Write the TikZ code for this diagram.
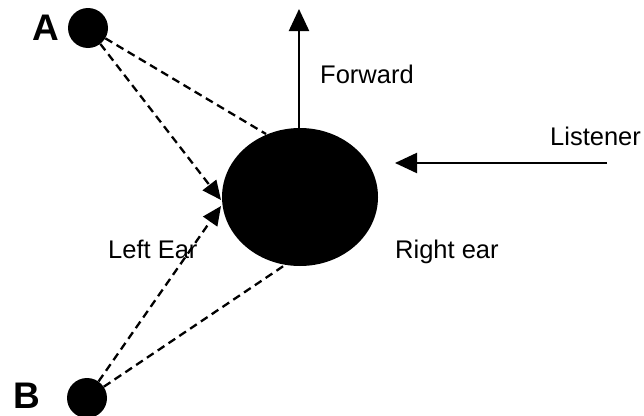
\documentclass[tikz,border=0pt]{standalone}
\usepackage{fontspec}
\setmainfont{Liberation Sans}
\usetikzlibrary{arrows.meta,shapes.geometric}
\begin{document}
\begin{tikzpicture}[x=1pt,y=-1pt,
  src/.style={circle,fill=black,minimum size=40pt,inner sep=0pt},
  lbl/.style={font=\fontsize{25.5}{30}\selectfont,inner sep=0pt,anchor=base west},
  big/.style={font=\fontsize{37}{40}\selectfont\bfseries,inner sep=0pt,anchor=base west},
  dsh/.style={line width=2.3pt,dash pattern=on 8pt off 5pt},
  solidarrow/.style={line width=2.2pt,-{Triangle[length=22pt,width=20pt]}},
  eararrow/.style={dsh,-{Triangle[length=19pt,width=17pt]}}]
\useasboundingbox (0,0) rectangle (644,415);
\clip (0,0) rectangle (644,415);
\node[src] (A) at (88,28) {};
\node[src] (B) at (87,398) {};
\node[big] (la) at (32,40) {A};
\node[big] (lb) at (13,408) {B};
\node[ellipse,fill=black,minimum width=156pt,minimum height=138pt,inner sep=0pt] (head) at (300,197) {};
\coordinate (htop) at (266,134);
\coordinate (hbot) at (285,265);
\coordinate (earA) at (221,200);
\coordinate (earB) at (221,206);
\coordinate (fwd) at (299,9);
\coordinate (fbase) at (299,129);
\coordinate (lis) at (607,163);
\coordinate (lisend) at (395,163);
\draw[dsh] (A) -- (htop);
\draw[eararrow] (A) -- (earA);
\draw[eararrow] (B) -- (earB);
\draw[dsh] (B) -- (hbot);
\draw[solidarrow] (fbase) -- (fwd);
\draw[solidarrow] (lis) -- (lisend);
\node[lbl] (tf) at (320,83) {Forward};
\node[lbl] (tl) at (550,145) {Listener};
\node[lbl] (tle) at (108,258) {Left Ear};
\node[lbl] (tre) at (395,258) {Right ear};
\end{tikzpicture}
\end{document}
